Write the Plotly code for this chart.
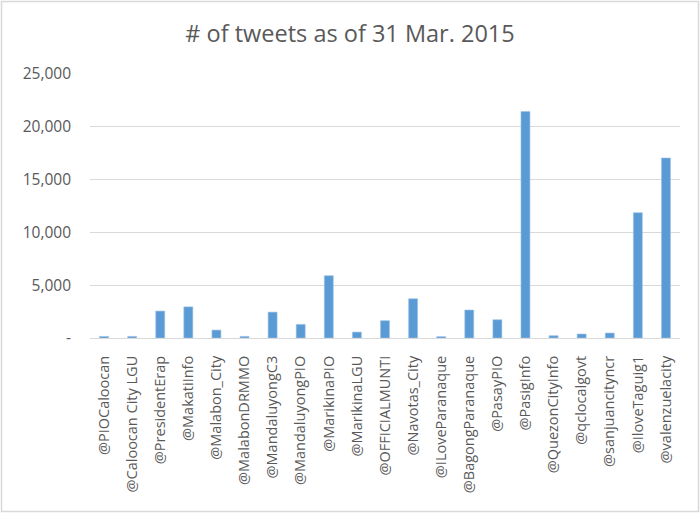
import plotly.graph_objects as go

accounts = ["@PIOCaloocan", "@Caloocan City LGU", "@PresidentErap", "@MakatiInfo",
            "@Malabon_City", "@MalabonDRMMO", "@MandaluyongC3", "@MandaluyongPIO",
            "@MarikinaPIO", "@MarikinaLGU", "@OFFICIALMUNTI", "@Navotas_City",
            "@ILoveParanaque", "@BagongParanaque", "@PasayPIO", "@PasigInfo",
            "@QuezonCityInfo", "@qclocalgovt", "@sanjuancityncr", "@IloveTaguig1",
            "@valenzuelacity"]
tweets = [150, 150, 2550, 2950, 750, 150, 2450, 1290, 5900, 560, 1640, 3720,
          130, 2650, 1730, 21450, 220, 380, 470, 11870, 17050]

ytick_vals = [0, 5000, 10000, 15000, 20000, 25000]
ytick_text = ["-", "5,000", "10,000", "15,000", "20,000", "25,000"]

fig = go.Figure(go.Bar(x=accounts, y=tweets, marker_color="#5B9BD5",
                       marker_line_color="#9DC3E6", marker_line_width=0.6))

W, H = 700, 513
L, R, T, B = 90, 20, 74, 175
pw, ph = W - L - R, H - T - B

fig.update_layout(
    width=W, height=H,
    margin=dict(l=L, r=R, t=T, b=B, autoexpand=False),
    paper_bgcolor="white", plot_bgcolor="white",
    title=dict(text="# of tweets as of 31 Mar. 2015", x=0.5, xref="container", xanchor="center",
               y=1 - 34 / H, yanchor="middle",
               font=dict(family="Open Sans", size=23.5, color="#595959")),
    bargap=0.68,
    font=dict(family="Open Sans", color="#595959"),
    showlegend=False,
    shapes=[dict(type="rect", xref="paper", yref="paper",
                 x0=(1.5 - L) / pw, x1=(W - 1.5 - L) / pw,
                 y0=-(H - 1.5 - (T + ph)) / ph, y1=1 + (T - 1.5) / ph,
                 line=dict(color="#D9D9D9", width=1.5), fillcolor="rgba(0,0,0,0)",
                 layer="below")],
)
fig.update_xaxes(tickangle=-90, tickfont=dict(size=14.5, color="#595959"),
                 showline=True, linecolor="#D9D9D9", linewidth=1, ticks="",
                 showgrid=False, ticklabelstandoff=11)
fig.update_yaxes(range=[0, 25000], tickvals=ytick_vals, ticktext=ytick_text,
                 tickfont=dict(size=15.5, color="#595959"),
                 showgrid=True, gridcolor="#D9D9D9", gridwidth=1,
                 zeroline=False, showline=False, ticks="", ticklabelstandoff=18)

fig.write_html("out.html", config={"displayModeBar": False},
               post_script="document.body.style.margin='0';")
